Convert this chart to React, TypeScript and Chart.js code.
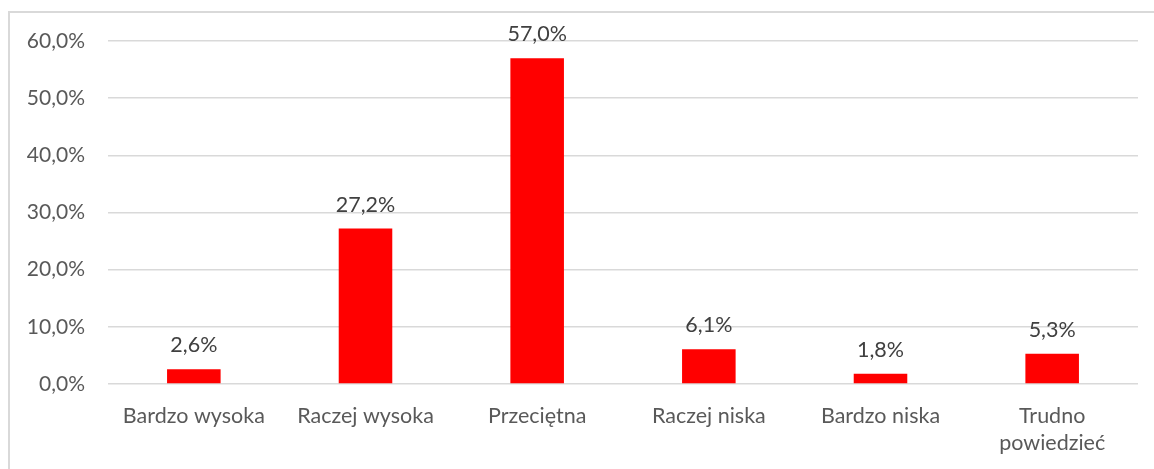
import React, { useEffect, useRef } from "react";
import { Chart, registerables } from "chart.js";

Chart.register(...registerables);

const categories: (string | string[])[] = [
  "Bardzo wysoka",
  "Raczej wysoka",
  "Przeciętna",
  "Raczej niska",
  "Bardzo niska",
  ["Trudno", "powiedzieć"],
];
const values: number[] = [2.6, 27.2, 57.0, 6.1, 1.8, 5.3];
const yMin = 0;
const yMax = 60;
const yStep = 10;

const fmt = (v: number) => v.toFixed(1).replace(".", ",") + "%";

const FONT = "Lato, 'Open Sans', sans-serif";

const dataLabels = {
  id: "dataLabels",
  afterDatasetsDraw(chart: any) {
    const ctx = chart.ctx;
    const meta = chart.getDatasetMeta(0);
    ctx.save();
    ctx.font = `21.5px ${FONT}`;
    ctx.fillStyle = "#404040";
    ctx.textAlign = "center";
    ctx.textBaseline = "alphabetic";
    meta.data.forEach((bar: any, i: number) => {
      ctx.fillText(fmt(values[i]), bar.x, bar.y - 17);
    });
    ctx.restore();
  },
};

export default function App() {
  const ref = useRef<HTMLCanvasElement>(null);
  useEffect(() => {
    if (!ref.current) return;
    const chart = new Chart(ref.current, {
      type: "bar",
      data: {
        labels: categories,
        datasets: [
          {
            data: values,
            backgroundColor: "#ff0000",
            borderWidth: 0,
            categoryPercentage: 1,
            barPercentage: 0.312,
          },
        ],
      },
      options: {
        animation: false,
        responsive: false,
        maintainAspectRatio: false,
        layout: { padding: { top: 41, right: 16, left: 0, bottom: 0 } },
        plugins: {
          legend: { display: false },
          tooltip: { enabled: false },
        },
        scales: {
          x: {
            grid: { display: false, drawTicks: false },
            border: { display: false },
            ticks: {
              color: "#595959",
              font: { family: FONT, size: 21.5, lineHeight: 1.25 },
              padding: 19,
              maxRotation: 0,
              autoSkip: false,
            },
            afterFit: (s: any) => {
              s.height = 85;
            },
          },
          y: {
            min: yMin,
            max: yMax,
            grid: { color: "#d9d9d9", lineWidth: 1.5, drawTicks: false },
            border: { display: false },
            ticks: {
              stepSize: yStep,
              color: "#595959",
              font: { family: FONT, size: 21 },
              padding: 23,
              callback: (v: any) => fmt(Number(v)),
            },
            afterFit: (s: any) => {
              s.width = 108;
            },
          },
        },
      },
      plugins: [dataLabels],
    });
    return () => chart.destroy();
  }, []);

  return (
    <div style={{ position: "fixed", left: 0, top: 0, width: 1154, height: 469, background: "#fff", overflow: "hidden" }}>
      <div
        style={{
          position: "absolute",
          left: 8,
          top: 11,
          width: 1200,
          height: 500,
          border: "2px solid #d9d9d9",
          boxSizing: "border-box",
        }}
      />
      <canvas ref={ref} width={1154} height={469} style={{ position: "absolute", left: 0, top: 0, width: 1154, height: 469 }} />
    </div>
  );
}
